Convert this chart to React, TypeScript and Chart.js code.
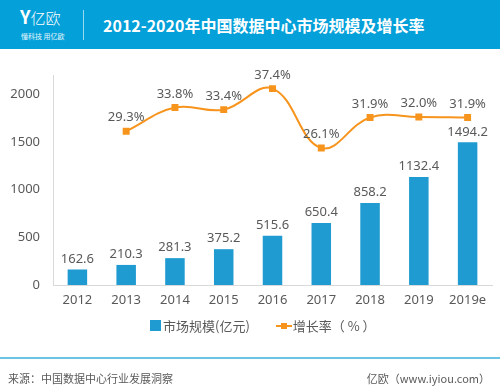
import React, { useEffect, useRef } from "react";
import { Chart, registerables } from "chart.js";

Chart.register(...registerables);

const categories = ["2012", "2013", "2014", "2015", "2016", "2017", "2018", "2019", "2019e"];
const marketSize = [162.6, 210.3, 281.3, 375.2, 515.6, 650.4, 858.2, 1132.4, 1494.2];
const growthRate = [null, 29.3, 33.8, 33.4, 37.4, 26.1, 31.9, 32.0, 31.9];
const yTicks = [0, 500, 1000, 1500, 2000];

const BAR = "#1f9bd1";
const ORANGE = "#f7941d";
const TXT = "#595959";
const FONT = "'Noto Sans', 'Noto Sans CJK SC', sans-serif";

const labelPlugin = {
  id: "valueLabels",
  afterDatasetsDraw(chart: any) {
    const ctx = chart.ctx;
    ctx.save();
    ctx.font = "13px " + FONT;
    ctx.fillStyle = TXT;
    ctx.textAlign = "center";
    ctx.textBaseline = "bottom";
    const barMeta = chart.getDatasetMeta(0);
    barMeta.data.forEach((el: any, i: number) => {
      ctx.fillText(marketSize[i].toFixed(1), el.x, el.y - 4);
    });
    const lineMeta = chart.getDatasetMeta(1);
    lineMeta.data.forEach((el: any, i: number) => {
      const v = growthRate[i];
      if (v == null) return;
      ctx.fillText(v.toFixed(1) + "%", el.x, el.y - 7);
    });
    ctx.restore();
  },
};

export default function App() {
  const ref = useRef<HTMLCanvasElement>(null);
  useEffect(() => {
    const chart = new Chart(ref.current!, {
      type: "bar",
      data: {
        labels: categories,
        datasets: [
          {
            type: "bar",
            label: "市场规模(亿元)",
            data: marketSize,
            backgroundColor: BAR,
            barPercentage: 0.5,
            categoryPercentage: 0.8,
            yAxisID: "y",
            order: 2,
          },
          {
            type: "line",
            label: "增长率（%）",
            data: growthRate as any,
            borderColor: ORANGE,
            backgroundColor: ORANGE,
            borderWidth: 2,
            tension: 0.4,
            pointStyle: "rect",
            pointRadius: 3.5,
            pointHoverRadius: 3.5,
            yAxisID: "y1",
            order: 1,
          } as any,
        ],
      },
      options: {
        animation: false,
        responsive: false,
        events: [],
        layout: { padding: { left: 8, right: 8, top: 75, bottom: 81 } },
        plugins: { legend: { display: false }, tooltip: { enabled: false } },
        scales: {
          x: {
            grid: { display: false, drawTicks: false },
            border: { color: "#d9d9d9", width: 1 },
            ticks: { color: TXT, font: { size: 13, family: FONT }, padding: 7 },
            afterFit: (s: any) => { s.height = 25; },
          },
          y: {
            min: 0,
            max: 2200,
            grid: { display: false, drawTicks: false },
            border: { color: "#d9d9d9", width: 1 },
            ticks: {
              color: TXT,
              font: { size: 13, family: FONT },
              padding: 13,
              callback: (v: any) => String(v),
            },
            afterBuildTicks: (axis: any) => {
              axis.ticks = yTicks.map((v) => ({ value: v }));
            },
            afterFit: (s: any) => { s.width = 45; },
          },
          y1: {
            display: false,
            min: 0,
            max: 40,
            position: "right",
          },
        },
      } as any,
      plugins: [labelPlugin],
    });
    return () => chart.destroy();
  }, []);

  const CJK = "'Noto Sans CJK SC', sans-serif";
  return (
    <div style={{ position: "fixed", left: 0, top: 0, width: 500, height: 391, background: "#fff", overflow: "hidden", fontFamily: FONT }}>
      <div style={{ position: "absolute", left: 0, top: 0, width: 500, height: 49, background: "#03a0d9" }}>
        <div style={{ position: "absolute", left: 20, top: 6, color: "#fff", fontSize: 15, lineHeight: "20px", fontFamily: CJK, whiteSpace: "nowrap" }}>
          <span style={{ fontWeight: 700, fontSize: 18 }}>Y</span><span style={{ fontWeight: 300 }}>亿欧</span>
        </div>
        <div style={{ position: "absolute", left: 21, top: 31, color: "#e6f6fc", fontSize: 7, lineHeight: "10px", fontFamily: CJK, whiteSpace: "nowrap" }}>懂科技 用亿欧</div>
        <div style={{ position: "absolute", left: 83, top: 10, width: 1, height: 30, background: "rgba(255,255,255,0.6)" }} />
        <div style={{ position: "absolute", left: 103, top: 14, color: "#fff", fontSize: 16, lineHeight: "22px", fontWeight: 700, fontFamily: CJK, whiteSpace: "nowrap" }}>
          2012-2020年中国数据中心市场规模及增长率
        </div>
      </div>
      <canvas ref={ref} width={500} height={391} style={{ position: "absolute", left: 0, top: 0, width: 500, height: 391 }} />
      <div style={{ position: "absolute", left: 150, top: 316, height: 18, display: "flex", alignItems: "center", fontSize: 13, color: TXT, fontFamily: CJK, whiteSpace: "nowrap" }}>
        <span style={{ display: "inline-block", width: 11, height: 11, background: BAR, marginRight: 2 }} />
        <span>市场规模(亿元)</span>
        <span style={{ display: "inline-block", position: "relative", width: 16, height: 11, marginLeft: 26, marginRight: 1 }}>
          <span style={{ position: "absolute", left: 0, top: 5, width: 16, height: 2, background: ORANGE }} />
          <span style={{ position: "absolute", left: 5, top: 3, width: 6, height: 6, background: ORANGE }} />
        </span>
        <span>增长率（ % ）</span>
      </div>
      <div style={{ position: "absolute", left: 0, top: 357, width: 500, height: 2, background: "#6cc4e4" }} />
      <div style={{ position: "absolute", left: 8, top: 369, fontSize: 11, lineHeight: "18px", color: TXT, fontFamily: CJK, whiteSpace: "nowrap" }}>来源：中国数据中心行业发展洞察</div>
      <div style={{ position: "absolute", right: 10, top: 369, fontSize: 11, lineHeight: "18px", color: TXT, fontFamily: CJK, whiteSpace: "nowrap" }}>亿欧（www.iyiou.com）</div>
    </div>
  );
}
